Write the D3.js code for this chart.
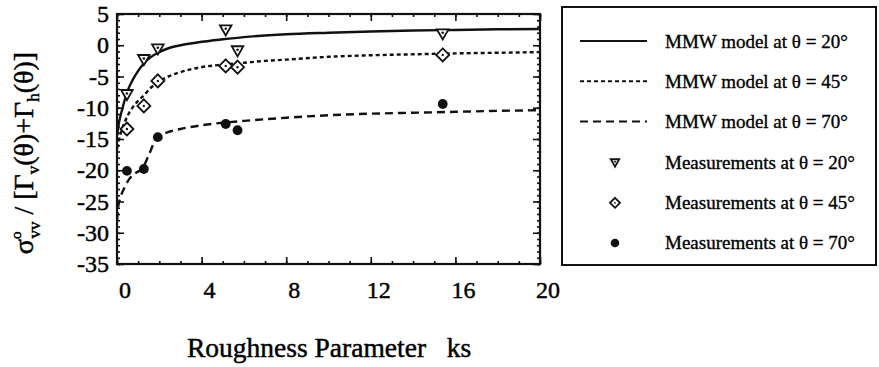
<!DOCTYPE html>
<html>
<head>
<meta charset="utf-8">
<script src="https://cdn.jsdelivr.net/npm/d3@7"></script>
<style>
  body { margin: 0; background: #fff; }
  svg text { font-family: "Liberation Serif", "Times New Roman", Times, serif; fill: #000; stroke: #000; stroke-width: 0.45px; }
</style>
</head>
<body>
<svg id="chart" width="879" height="367"></svg>
<script>
// Axis ticks
const xMajorTicks = [0, 4, 8, 12, 16, 20];
const xMinorTicks = d3.range(0, 21, 1);
const yMajorTicks = [5, 0, -5, -10, -15, -20, -25, -30, -35];
const yMinorTicks = d3.range(-35, 6, 1);

// MMW model curves (ks, normalized backscatter in dB)
const model20Ks  = [0, 0.1, 0.25, 0.5, 0.75, 1, 1.3, 1.6, 2, 2.5, 3, 4, 5, 6, 8, 10, 12, 14, 16, 18, 20];
const model20Val = [-14.5, -12.3, -10.2, -7.3, -5.5, -4.1, -2.8, -1.9, -1.1, -0.4, 0.0, 0.55, 0.95, 1.3, 1.75, 2.0, 2.2, 2.35, 2.45, 2.55, 2.6];

const model45Ks  = [0, 0.1, 0.25, 0.5, 0.75, 1, 1.3, 1.6, 2, 2.5, 3, 4, 5, 6, 7, 8, 10, 12, 14, 16, 18, 20];
const model45Val = [-16.5, -15, -13.3, -11.3, -9.9, -8.9, -7.9, -6.8, -5.8, -4.9, -4.3, -3.5, -3.1, -2.8, -2.5, -2.3, -1.85, -1.6, -1.45, -1.3, -1.2, -1.1];

const model70Ks  = [0, 0.05, 0.15, 0.35, 0.6, 0.9, 1.2, 1.5, 1.8, 2.1, 2.5, 3, 4, 5, 6, 8, 10, 12, 14, 16, 18, 20];
const model70Val = [-28, -26, -24.5, -22.8, -21.3, -20.4, -19.7, -17.6, -15.3, -14.4, -13.8, -13.4, -12.8, -12.4, -12.1, -11.6, -11.2, -10.95, -10.8, -10.65, -10.5, -10.4];

// Measurements
const measKs    = [0.47, 1.27, 1.93, 5.14, 5.7, 15.4];
const meas20Val = [-7.9, -2.3, -0.6, 2.45, -0.9, 1.8];
const meas45Val = [-13.4, -9.7, -5.7, -3.3, -3.5, -1.55];
const meas70Val = [-20.1, -19.8, -14.7, -12.6, -13.6, -9.4];

const legendLabels = [
  "MMW model at \u03B8 = 20\u00B0",
  "MMW model at \u03B8 = 45\u00B0",
  "MMW model at \u03B8 = 70\u00B0",
  "Measurements at \u03B8 = 20\u00B0",
  "Measurements at \u03B8 = 45\u00B0",
  "Measurements at \u03B8 = 70\u00B0"
];

const svg = d3.select("#chart");
svg.append("rect").attr("width", 879).attr("height", 367).attr("fill", "#fff");

const plot = { left: 117, right: 540, top: 14, bottom: 264 };
const x = d3.scaleLinear().domain([0, 20]).range([plot.left, plot.right]);
const y = d3.scaleLinear().domain([-35, 5]).range([plot.bottom, plot.top]);

const ink = "#111";

// Inward ticks on all four sides
function tickAxis(axisFn, scale, values, size, transform) {
  const g = svg.append("g").attr("transform", transform)
    .call(axisFn(scale).tickValues(values).tickSize(size).tickFormat(""));
  g.select(".domain").remove();
  g.selectAll("line").attr("stroke", ink).attr("stroke-width", 1.6);
  return g;
}
tickAxis(d3.axisBottom, x, xMinorTicks, -3, `translate(0,${plot.bottom})`);
tickAxis(d3.axisBottom, x, xMajorTicks, -7, `translate(0,${plot.bottom})`);
tickAxis(d3.axisTop, x, xMinorTicks, -3, `translate(0,${plot.top})`);
tickAxis(d3.axisTop, x, xMajorTicks, -7, `translate(0,${plot.top})`);
tickAxis(d3.axisLeft, y, yMinorTicks, -3, `translate(${plot.left},0)`);
tickAxis(d3.axisLeft, y, yMajorTicks, -7, `translate(${plot.left},0)`);
tickAxis(d3.axisRight, y, yMinorTicks, -3, `translate(${plot.right},0)`);
tickAxis(d3.axisRight, y, yMajorTicks, -7, `translate(${plot.right},0)`);

// Frame
svg.append("rect")
  .attr("x", plot.left).attr("y", plot.top)
  .attr("width", plot.right - plot.left).attr("height", plot.bottom - plot.top)
  .attr("fill", "none").attr("stroke", ink).attr("stroke-width", 2.2);

// Tick labels
svg.append("g").selectAll("text").data(xMajorTicks).join("text")
  .attr("x", d => x(d) + 8).attr("y", 298)
  .attr("text-anchor", "middle").attr("font-size", 24)
  .text(d => d);
svg.append("g").selectAll("text").data(yMajorTicks).join("text")
  .attr("x", 109).attr("y", d => y(d) + 8)
  .attr("text-anchor", "end").attr("font-size", 24)
  .text(d => d);

// Model curves
const line = d3.line().x(d => x(d[0])).y(d => y(d[1])).curve(d3.curveMonotoneX);
const models = [
  { ks: model20Ks, val: model20Val, dash: null },
  { ks: model45Ks, val: model45Val, dash: "4,3" },
  { ks: model70Ks, val: model70Val, dash: "8,5" }
];
svg.append("clipPath").attr("id", "plot-clip").append("rect")
  .attr("x", plot.left).attr("y", plot.top)
  .attr("width", plot.right - plot.left).attr("height", plot.bottom - plot.top);
const curves = svg.append("g").attr("clip-path", "url(#plot-clip)");
models.forEach(m => {
  curves.append("path")
    .attr("d", line(d3.zip(m.ks, m.val)))
    .attr("fill", "none").attr("stroke", ink).attr("stroke-width", 2.4)
    .attr("stroke-dasharray", m.dash);
});

// Marker shapes
function triangle(g, cx, cy, s) {
  g.append("path")
    .attr("d", `M${cx - s},${cy - s * 0.8}L${cx + s},${cy - s * 0.8}L${cx},${cy + s * 0.95}Z`)
    .attr("fill", "#fff").attr("stroke", ink).attr("stroke-width", 1.8);
  g.append("circle").attr("cx", cx).attr("cy", cy - s * 0.2).attr("r", s * 0.22).attr("fill", ink);
}
function diamond(g, cx, cy, s) {
  g.append("path")
    .attr("d", `M${cx},${cy - s}L${cx + s},${cy}L${cx},${cy + s}L${cx - s},${cy}Z`)
    .attr("fill", "#fff").attr("stroke", ink).attr("stroke-width", 1.8);
  g.append("circle").attr("cx", cx).attr("cy", cy).attr("r", s * 0.18).attr("fill", ink);
}
function dot(g, cx, cy, s) {
  g.append("circle").attr("cx", cx).attr("cy", cy).attr("r", s).attr("fill", ink);
}

const marks = svg.append("g");
measKs.forEach((k, i) => {
  triangle(marks, x(k), y(meas20Val[i]), 5.8);
  diamond(marks, x(k), y(meas45Val[i]), 6.5);
  dot(marks, x(k), y(meas70Val[i]), 4.9);
});

// Legend
const legend = svg.append("g");
legend.append("rect")
  .attr("x", 562).attr("y", 7).attr("width", 314).attr("height", 258)
  .attr("fill", "#fff").attr("stroke", ink).attr("stroke-width", 2);
const rowY = i => 41 + i * 40.2;
models.forEach((m, i) => {
  legend.append("line")
    .attr("x1", 580).attr("x2", 647).attr("y1", rowY(i)).attr("y2", rowY(i))
    .attr("stroke", ink).attr("stroke-width", 2).attr("stroke-dasharray", m.dash);
});
triangle(legend, 615, rowY(3) + 1, 4.2);
diamond(legend, 615, rowY(4) + 1, 5);
dot(legend, 615, rowY(5) + 1, 4.3);
legend.selectAll("text.lab").data(legendLabels).join("text")
  .attr("class", "lab")
  .attr("x", 665).attr("y", (d, i) => rowY(i) + 7)
  .attr("font-size", 19)
  .style("stroke-width", "0.35px")
  .text(d => d);

// Axis titles
svg.append("text")
  .attr("x", 187).attr("y", 357)
  .attr("font-size", 27.5)
  .attr("xml:space", "preserve")
  .text("Roughness Parameter   ks");

const yTitle = svg.append("text")
  .attr("transform", "translate(33,153) rotate(-90)")
  .attr("text-anchor", "middle")
  .attr("font-size", 28);
yTitle.append("tspan").text("\u03C3");
yTitle.append("tspan").attr("font-size", 15).attr("dy", -12).text("o");
yTitle.append("tspan").attr("font-size", 17).attr("dx", -7).attr("dy", 19).text("vv");
yTitle.append("tspan").attr("dy", -7).text(" / [\u0393");
yTitle.append("tspan").attr("font-size", 17).attr("dy", 6).text("v");
yTitle.append("tspan").attr("dy", -6).text("(\u03B8)+\u0393");
yTitle.append("tspan").attr("font-size", 17).attr("dy", 6).text("h");
yTitle.append("tspan").attr("dy", -6).text("(\u03B8)]");
</script>
</body>
</html>
